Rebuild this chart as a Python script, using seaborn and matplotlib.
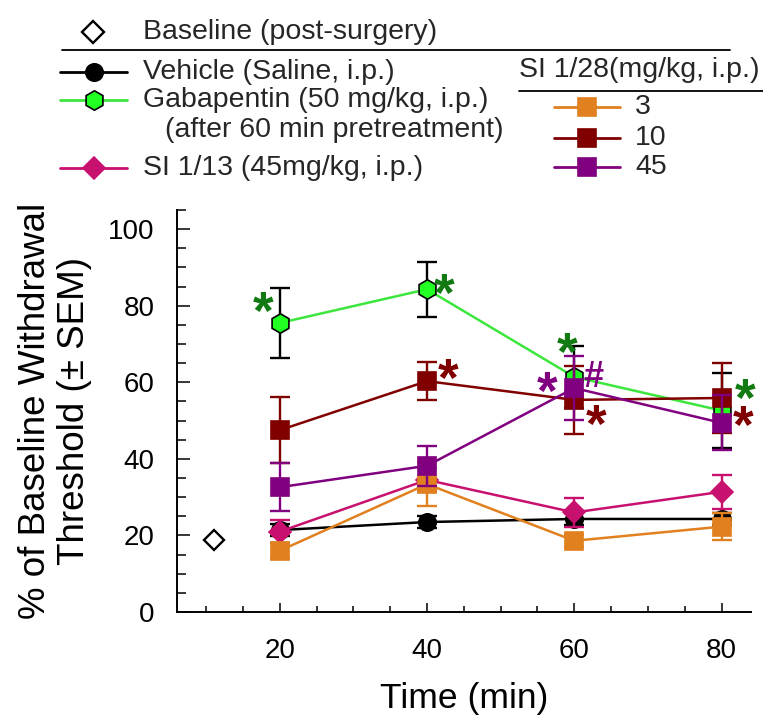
import numpy as np
import pandas as pd
import matplotlib
matplotlib.use("Agg")
import matplotlib.pyplot as plt
from matplotlib.lines import Line2D
from matplotlib.ticker import MultipleLocator
import seaborn as sns

# time points (min) and group means / SEM (% of baseline threshold)
times = [20, 40, 60, 80]

vehicle = [21.4, 23.5, 24.3, 24.3]
vehicle_sem = [1.5, 1.5, 1.5, 1.5]

gabapentin = [75.5, 84.3, 61.4, 52.6]
gabapentin_sem = [9.1, 7.2, 8.1, 9.8]

si113 = [21.0, 34.5, 26.0, 31.4]
si113_sem = [3.0, 3.0, 3.8, 4.5]

si128_3 = [16.0, 33.4, 18.6, 22.3]
si128_3_sem = [2.0, 5.8, 1.5, 3.5]

si128_10 = [47.5, 60.3, 55.4, 55.9]
si128_10_sem = [8.6, 5.0, 8.9, 9.2]

si128_45 = [32.6, 38.2, 58.5, 49.4]
si128_45_sem = [6.3, 5.2, 8.3, 7.2]

baseline_time = 11
baseline_value = 18.8

# significance marks: (time, value, symbol, colour)
marks = [
    (17.7, 80.5, "*", "#127a12"),
    (42.4, 85.2, "*", "#127a12"),
    (59.0, 69.7, "*", "#127a12"),
    (83.2, 57.6, "*", "#127a12"),
    (42.9, 62.8, "*", "#800000"),
    (63.0, 50.9, "*", "#800000"),
    (83.0, 50.6, "*", "#800000"),
    (56.4, 59.4, "*", "#800080"),
    (62.7, 61.2, "#", "#800080"),
]

W, H = 763, 718
sns.set_theme(style="ticks")
plt.rcParams["font.family"] = ["Liberation Sans", "DejaVu Sans"]
plt.rcParams["mathtext.fontset"] = "custom"
plt.rcParams["mathtext.rm"] = "Liberation Sans"
plt.rcParams["mathtext.bf"] = "Liberation Sans:bold"

fig = plt.figure(figsize=(W / 100, H / 100), dpi=100)
ax = fig.add_axes([176.7 / W, 1 - 612 / H, (751 - 176.7) / W, (612 - 210) / H])

# name, means, sem, line colour, face colour, edge colour, err colour, marker, size, zorder
series = [
    ("Gabapentin", gabapentin, gabapentin_sem, "#3ce63c", "#22ff22", "black", "black", "h", 14, 3),
    ("Vehicle", vehicle, vehicle_sem, "black", "black", "black", "black", "o", 12.5, 4),
    ("SI 1/13", si113, si113_sem, "#c8106e", "#c8106e", "#c8106e", "#c8106e", "D", 11, 5),
    ("3", si128_3, si128_3_sem, "#e0801e", "#e0801e", "#e0801e", "#e0801e", "s", 13, 6),
    ("10", si128_10, si128_10_sem, "#800000", "#800000", "#800000", "#800000", "s", 13, 7),
    ("45", si128_45, si128_45_sem, "#800080", "#800080", "#800080", "#800080", "s", 13, 8),
]

for name, m, e, lc, fc, ec, erc, mk, ms, z in series:
    df = pd.DataFrame({"time": times, "value": m})
    ax.errorbar(times, m, yerr=e, fmt="none", ecolor=erc, elinewidth=1.7,
                capsize=7, capthick=1.7, zorder=z - 0.5)
    sns.lineplot(data=df, x="time", y="value", ax=ax, color=lc, lw=1.8,
                 marker=mk, markersize=ms, markerfacecolor=fc,
                 markeredgecolor=ec, markeredgewidth=1.2, zorder=z)

ax.plot([baseline_time], [baseline_value], marker="D", ms=10.5, mfc="white",
        mec="black", mew=1.7, ls="none", zorder=9)

# mathtext boxes reach down to the baseline, so shift the asterisks to centre the ink
for tx, ty, s, c in marks:
    if s == "*":
        ax.annotate(r"$\mathbf{*}$", xy=(tx, ty), xytext=(0, -7), textcoords="offset points",
                    ha="center", va="center", fontsize=38, color=c, zorder=10)
    else:
        ax.annotate(r"$\mathbf{\#}$", xy=(tx, ty), xytext=(0, 0), textcoords="offset points",
                    ha="center", va="center", fontsize=26, color=c, zorder=10)

ax.set_xlim(6, 84)
ax.set_ylim(0, 105)
ax.set_xticks([20, 40, 60, 80])
ax.xaxis.set_minor_locator(MultipleLocator(5))
ax.set_yticks([0, 20, 40, 60, 80, 100])
ax.yaxis.set_minor_locator(MultipleLocator(5))
ax.tick_params(axis="both", which="both", direction="in", width=1.1, color="black",
               labelsize=20, labelcolor="black")
ax.tick_params(axis="x", which="major", length=6.5, pad=19)
ax.tick_params(axis="x", which="minor", length=4.5)
ax.tick_params(axis="y", which="major", length=9, pad=16)
ax.tick_params(axis="y", which="minor", length=6.5)
for sp in ["top", "right"]:
    ax.spines[sp].set_visible(False)
for sp in ["left", "bottom"]:
    ax.spines[sp].set_linewidth(1.4)
    ax.spines[sp].set_color("black")

ax.set_xlabel("Time (min)", fontsize=25.5, color="black")
ax.set_ylabel("% of Baseline Withdrawal\nThreshold (± SEM)", fontsize=26.5,
              color="black", linespacing=1.15)
ax.xaxis.set_label_coords(0.5, -0.175)
ax.yaxis.set_label_coords(-0.148, 0.5)


# legend drawn in figure pixel coordinates
def fx(x):
    return x / W


def fy(y):
    return 1 - y / H


def handle(x0, x1, y, lc, fc, ec, mk, ms):
    fig.add_artist(Line2D([fx(x0), fx(x1)], [fy(y), fy(y)], color=lc, lw=2,
                          transform=fig.transFigure))
    fig.add_artist(Line2D([fx((x0 + x1) / 2)], [fy(y)], marker=mk, ms=ms, mfc=fc,
                          mec=ec, mew=1.2, ls="none", transform=fig.transFigure))


lfs = 20.5
fig.add_artist(Line2D([fx(93)], [fy(31.7)], marker="D", ms=11, mfc="white",
                      mec="black", mew=1.7, ls="none", transform=fig.transFigure))
fig.text(fx(143), fy(31.7), "Baseline (post-surgery)", fontsize=lfs, va="center")
fig.add_artist(Line2D([fx(62), fx(730)], [fy(50), fy(50)], color="black", lw=1.3,
                      transform=fig.transFigure))

left_rows = [("Vehicle (Saline, i.p.)", 71.7, series[1]),
             ("Gabapentin (50 mg/kg, i.p.)", 100, series[0]),
             ("SI 1/13 (45mg/kg, i.p.)", 168, series[2])]
for label, y, s in left_rows:
    handle(60, 127, y, s[3], s[4], s[5], s[7], s[8])
    fig.text(fx(143), fy(y), label, fontsize=lfs, va="center")
fig.text(fx(165), fy(130), "(after 60 min pretreatment)", fontsize=lfs, va="center")

fig.text(fx(519), fy(70), "SI 1/28(mg/kg, i.p.)", fontsize=lfs, va="center")
fig.add_artist(Line2D([fx(519), fx(763)], [fy(90.7), fy(90.7)], color="black", lw=1.3,
                      transform=fig.transFigure))
right_rows = [(107, series[3]), (138, series[4]), (167, series[5])]
for y, s in right_rows:
    handle(554, 620, y, s[3], s[4], s[5], s[7], s[8])
    fig.text(fx(635), fy(y), s[0], fontsize=lfs, va="center")

fig.savefig("out.png", dpi=100)
